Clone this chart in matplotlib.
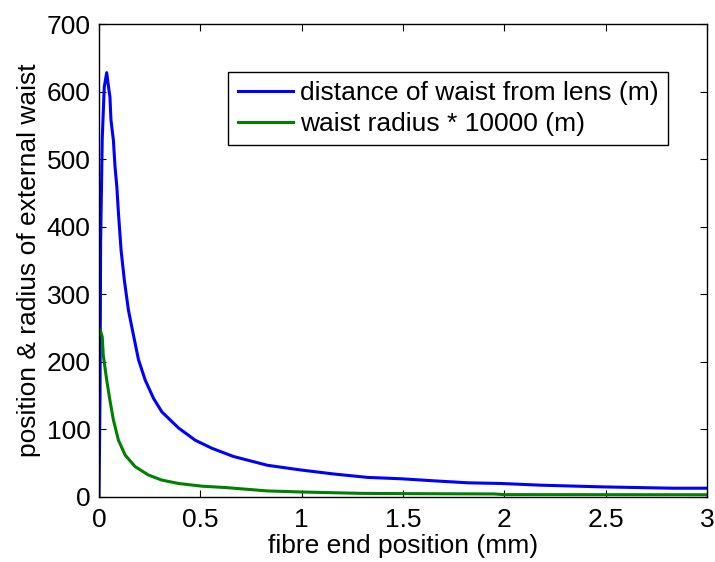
import matplotlib
matplotlib.use("Agg")
import matplotlib.pyplot as plt

plt.rcParams['font.family'] = ['Liberation Sans', 'DejaVu Sans']

# fibre end position (mm) and values
x_dist = [0.0, 0.005, 0.008, 0.016, 0.026, 0.038, 0.046, 0.054, 0.059, 0.071,
          0.079, 0.088, 0.096, 0.109, 0.125, 0.145, 0.165, 0.182, 0.195, 0.228,
          0.269, 0.31, 0.393, 0.475, 0.558, 0.663, 0.83, 0.995, 1.16, 1.325,
          1.49, 1.65, 1.82, 1.985, 2.18, 2.48, 2.83, 3.0]
dist = [0, 148, 376, 531, 607, 628, 609, 592, 558, 528,
        489, 459, 420, 365, 321, 277, 247, 222, 203, 173,
        146, 126, 102, 84, 72, 60, 47, 40, 34, 29,
        27, 24, 21, 20, 17.5, 15, 13, 13]

x_rad = [0.0, 0.008, 0.016, 0.021, 0.038, 0.054, 0.071, 0.096, 0.129, 0.178,
         0.244, 0.31, 0.393, 0.508, 0.624, 0.83, 1.0, 1.29, 1.49, 1.95,
         2.0, 2.5, 3.0]
rad = [250, 245, 237, 210, 173, 143, 114, 84, 62, 45,
       32.5, 25, 20, 16, 14, 9, 7.4, 5.4, 5.0, 4.5,
       3.5, 3.4, 3.3]

series_labels = ['distance of waist from lens (m)', 'waist radius * 10000 (m)']
xlabel = 'fibre end position (mm)'
ylabel = 'position & radius of external waist'
xticks = [0, 0.5, 1, 1.5, 2, 2.5, 3]
xticklabels = ['0', '0.5', '1', '1.5', '2', '2.5', '3']
yticks = [0, 100, 200, 300, 400, 500, 600, 700]

fig = plt.figure(figsize=(7.15, 5.62), dpi=100)
ax = fig.add_axes([99/715, 1-497/562, (707-99)/715, (497-24)/562])
ax.plot(x_dist, dist, color=(0, 0, 1), lw=2.2, label=series_labels[0])
ax.plot(x_rad, rad, color=(0, 0.5, 0), lw=2.2, label=series_labels[1])
ax.set_xlim(0, 3)
ax.set_ylim(0, 700)
ax.set_xticks(xticks)
ax.set_xticklabels(xticklabels)
ax.set_yticks(yticks)
fs = 19
ax.tick_params(direction='in', top=True, right=True, labelsize=fs, length=5, width=0.8)
ax.tick_params(axis='x', pad=8)
ax.tick_params(axis='y', pad=6)
for s in ax.spines.values():
    s.set_linewidth(1.0)
ax.set_xlabel(xlabel, fontsize=fs, labelpad=1)
ax.set_ylabel(ylabel, fontsize=fs, labelpad=4)
leg = ax.legend(loc='upper right', bbox_to_anchor=(0.936, 0.8985), fontsize=fs,
                fancybox=False, edgecolor='black', framealpha=1,
                handlelength=2.1, handletextpad=0.27, borderpad=0.35,
                labelspacing=0.25, borderaxespad=0)
leg.get_frame().set_linewidth(1.0)
fig.savefig('out.png', dpi=100)
